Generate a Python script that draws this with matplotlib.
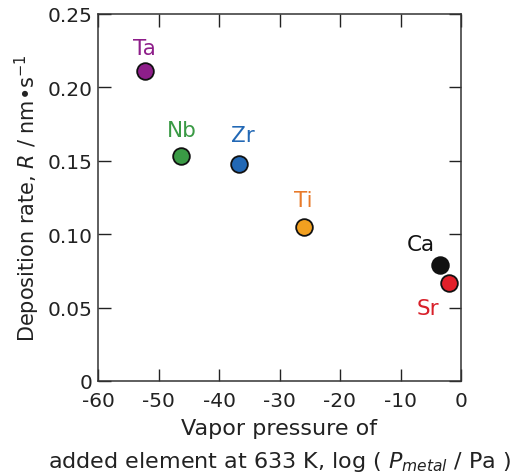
import matplotlib
matplotlib.use("Agg")
import matplotlib.pyplot as plt

elements = ["Ta", "Nb", "Zr", "Ti", "Ca", "Sr"]
log_p = [-52.3, -46.3, -36.7, -26.0, -3.4, -2.0]
rate = [0.211, 0.153, 0.148, 0.105, 0.079, 0.067]
marker_colors = ["#8E1E8A", "#3A9A45", "#2268B5", "#F2A020", "#111111", "#E2202A"]
text_colors = ["#8E1E8A", "#3A9A45", "#2268B5", "#E87A2A", "#111111", "#D8202A"]
label_offsets = [(0, 17), (1, 19), (3, 21), (0, 19), (-14, 15), (-15, -18)]

xticks = [-60, -50, -40, -30, -20, -10, 0]
yticks = [0, 0.05, 0.10, 0.15, 0.20, 0.25]
ytick_labels = ["0", "0.05", "0.10", "0.15", "0.20", "0.25"]

plt.rcParams['font.family'] = ['DejaVu Sans']
plt.rcParams['mathtext.fontset'] = 'dejavusans'

fig = plt.figure(figsize=(5.14, 4.77), dpi=100)
ax = fig.add_axes([98/514, 1 - 382/477, (461-98)/514, (382-15)/477])

for x, y, mc in zip(log_p, rate, marker_colors):
    ax.plot(x, y, 'o', ms=12, mfc=mc, mec='#111111', mew=1.3, zorder=3)

for x, y, name, tc, (dx, dy) in zip(log_p, rate, elements, text_colors, label_offsets):
    ax.annotate(name, (x, y), xytext=(dx, dy), textcoords='offset points',
                ha='center', va='center', fontsize=15.5, color=tc)

ax.set_xlim(-60, 0)
ax.set_ylim(0, 0.25)
ax.set_xticks(xticks)
ax.set_xticklabels([str(t) for t in xticks])
ax.set_yticks(yticks)
ax.set_yticklabels(ytick_labels)
ax.tick_params(direction='in', length=9, width=1, top=True, right=True,
               labelsize=14.5, colors='#222222')
ax.tick_params(axis='x', pad=7)
ax.tick_params(axis='y', pad=4)
for s in ax.spines.values():
    s.set_linewidth(1.1)
    s.set_color('#333333')

ax.set_xlabel("Vapor pressure of\nadded element at 633 K, log ( $\\mathit{P_{metal}}$ / Pa )",
              fontsize=16, color='#222222', linespacing=1.6, labelpad=6)
ax.set_ylabel("Deposition rate, $\\mathit{R}$ / nm\u2022s$^{-1}$", fontsize=15,
              color='#222222', labelpad=4)

fig.savefig("out.png", dpi=100)
